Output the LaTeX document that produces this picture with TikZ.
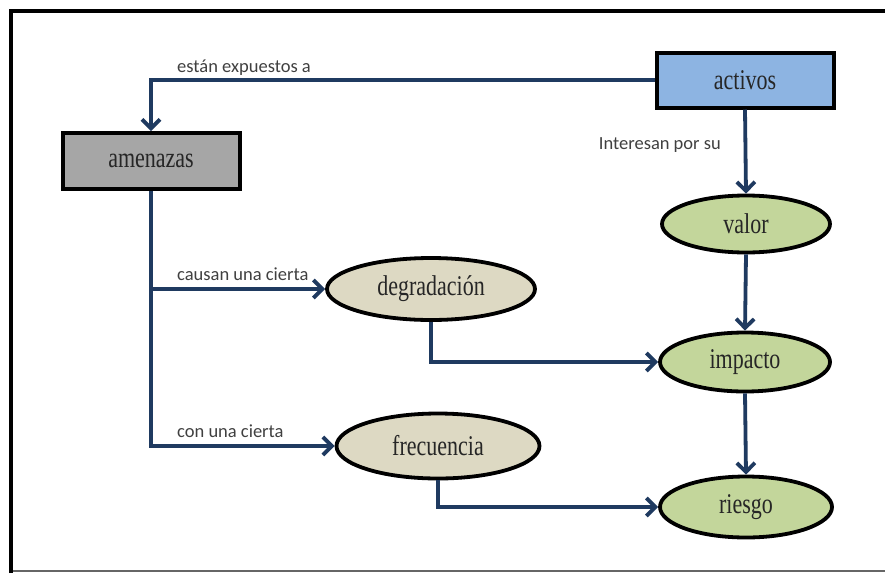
\documentclass[tikz,border=0pt]{standalone}
\usepackage{fontspec}
\usepackage{graphicx}
\setmainfont{Liberation Serif}
\newfontfamily\lblfont{Carlito}
\usetikzlibrary{shapes.geometric,arrows.meta}
\definecolor{navy}{HTML}{1F3A60}
\definecolor{boxblue}{HTML}{8DB4E2}
\definecolor{boxgray}{HTML}{A6A6A6}
\definecolor{beige}{HTML}{DDD9C3}
\definecolor{lgreen}{HTML}{C3D69B}
\definecolor{lbltext}{HTML}{404040}
\newcommand{\tallt}[1]{\scalebox{1}[1.3]{#1}}
\tikzset{
  rectbox/.style={draw=black, line width=4pt, minimum width=177pt, minimum height=55pt, inner sep=0pt,
    font=\fontsize{22}{24}\selectfont, text=black!85},
  ellbox/.style={ellipse, draw=black, line width=3.8pt, inner sep=0pt,
    font=\fontsize{22}{24}\selectfont, text=black!85},
  conn/.style={draw=navy, line width=3.8pt, -{Straight Barb[length=9pt,width=18pt]}},
  lbl/.style={font=\lblfont\fontsize{18.5}{20}\selectfont, text=lbltext, inner sep=0pt}
}
\begin{document}
\begin{tikzpicture}[x=1pt,y=-1pt]
\useasboundingbox (0,0) rectangle (885,573);
\fill[white] (0,0) rectangle (885,573);
% frame
\draw[black!60, line width=2pt] (11,571) -- (885,571);
\draw[black, line width=3.5pt] (11,573) -- (11,11) -- (885,11);
% nodes
\node[rectbox, fill=boxblue] (activos) at (745,80) {\tallt{activos}};
\node[rectbox, fill=boxgray, minimum height=56pt] (amen) at (151,161) {\tallt{amenazas}};
\node[ellbox, fill=lgreen, minimum width=168pt, minimum height=57pt] (valor) at (746,224) {\tallt{valor}};
\node[ellbox, fill=lgreen, minimum width=170pt, minimum height=59pt] (imp) at (745,362) {\tallt{impacto}};
\node[ellbox, fill=lgreen, minimum width=172pt, minimum height=61pt] (ries) at (746,507) {\tallt{riesgo}};
\node[ellbox, fill=beige, minimum width=208pt, minimum height=62pt] (degr) at (431,289) {\tallt{degradación}};
\node[ellbox, fill=beige, minimum width=203pt, minimum height=65pt] (frec) at (438,446) {\tallt{frecuencia}};
% labels
\node[lbl, anchor=west] (l1) at (177,68) {están expuestos a};
\node[lbl, anchor=east] (l2) at (721,145) {Interesan por su};
\node[lbl, anchor=west] (l3) at (177,274) {causan una cierta};
\node[lbl, anchor=west] (l4) at (177,431) {con una cierta};
% connectors
\draw[conn] (activos.west) -| (amen.north);
\draw[conn] (activos.south) -- (valor.north);
\draw[conn] (valor.south) -- (imp.north);
\draw[conn] (imp.south) -- (ries.north);
\draw[conn] (amen.south) |- (frec.west);
\draw[conn] (amen.south |- degr.west) -- (degr.west);
\draw[conn] (degr.south) |- (imp.west);
\draw[conn] (frec.south) |- (ries.west);
\end{tikzpicture}
\end{document}
